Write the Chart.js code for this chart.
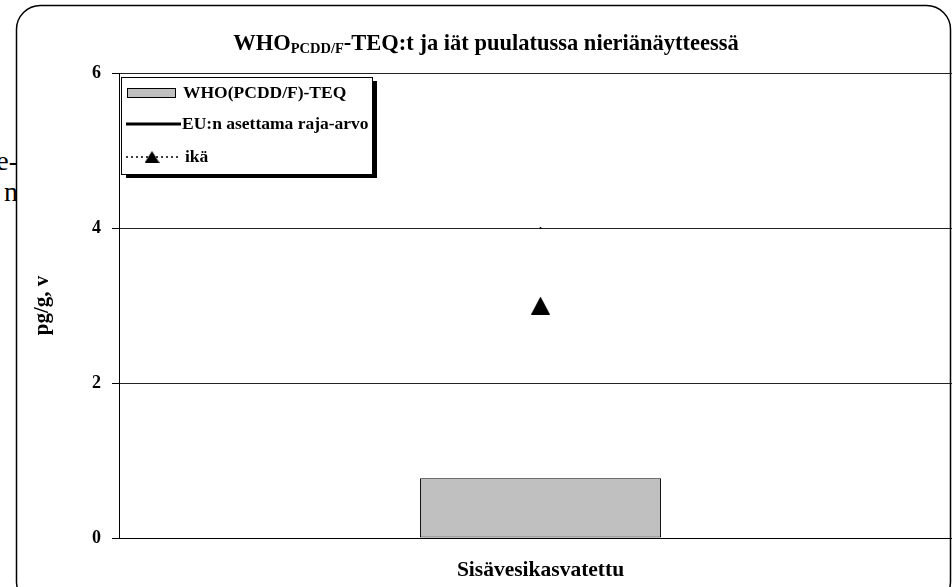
<!DOCTYPE html>
<html>
<head>
<meta charset="utf-8">
<script src="https://cdn.jsdelivr.net/npm/chart.js@4/dist/chart.umd.min.js"></script>
<style>
  html, body { margin: 0; padding: 0; background: #fff; overflow: hidden; width: 952px; height: 587px; }
  #wrap { position: relative; width: 962px; height: 587px; overflow: hidden; }
  .side { position: absolute; left: -182px; width: 200px; text-align: right; white-space: nowrap;
          font-family: "Liberation Serif", "Times New Roman", serif; font-size: 28px; color: #000; line-height: 1; }
  #c { position: absolute; left: 0; top: 0; width: 962px; height: 587px; }
</style>
</head>
<body>
<div id="wrap">
  <div class="side" style="top:147px">e-</div>
  <div class="side" style="top:178px">n</div>
  <canvas id="c" width="962" height="587"></canvas>
</div>
<script>
// Data
const categories = ['Sisävesikasvatettu'];
const teqValues = [0.77];      // WHO(PCDD/F)-TEQ, pg/g
const euLimitValues = [4];     // EU limit value, pg/g
const ageValues = [3];         // age, years
const yTickValues = [0, 2, 4, 6];

const seriesLabels = ['WHO(PCDD/F)-TEQ', 'EU:n asettama raja-arvo', 'ikä'];
const titleMain = 'WHO';
const titleSub = 'PCDD/F';
const titleRest = '-TEQ:t ja iät puulatussa nieriänäytteessä';
const yAxisTitle = 'pg/g, v';

const SERIF = '"Liberation Serif", "Times New Roman", serif';

// Filled triangle marker, centred in its own little canvas
function makeTriangle(w, h) {
  const c = document.createElement('canvas');
  c.width = w; c.height = h;
  const g = c.getContext('2d');
  g.fillStyle = '#000';
  g.beginPath();
  g.moveTo(w / 2, 0);
  g.lineTo(w, h);
  g.lineTo(0, h);
  g.closePath();
  g.fill();
  return c;
}
const triangleMarker = makeTriangle(19, 18);
const triangleLegend = makeTriangle(15, 12);

// Rounded white frame behind everything
const framePlugin = {
  id: 'frame',
  beforeDraw(chart) {
    const ctx = chart.ctx;
    ctx.save();
    ctx.beginPath();
    ctx.roundRect(16.5, 5.5, 934, 600, 24);
    ctx.fillStyle = '#fff';
    ctx.fill();
    ctx.lineWidth = 1.5;
    ctx.strokeStyle = '#000';
    ctx.stroke();
    ctx.restore();
  }
};

// Title with subscript
const titlePlugin = {
  id: 'subTitle',
  afterDraw(chart) {
    const ctx = chart.ctx;
    const parts = [
      { t: titleMain, f: 'bold 22.5px ' + SERIF, dy: 0 },
      { t: titleSub, f: 'bold 14.5px ' + SERIF, dy: 3 },
      { t: titleRest, f: 'bold 22.5px ' + SERIF, dy: 0 }
    ];
    ctx.save();
    let total = 0;
    parts.forEach(p => { ctx.font = p.f; p.w = ctx.measureText(p.t).width; total += p.w; });
    let x = 486 - total / 2;
    const base = 50;
    ctx.fillStyle = '#000';
    ctx.textBaseline = 'alphabetic';
    ctx.textAlign = 'left';
    parts.forEach(p => { ctx.font = p.f; ctx.fillText(p.t, x, base + p.dy); x += p.w; });
    ctx.restore();
  }
};

// Boxed legend with drop shadow
const legendPlugin = {
  id: 'boxLegend',
  afterDraw(chart) {
    const ctx = chart.ctx;
    const ds = chart.data.datasets;
    const bx = 121, by = 77, bw = 251, bh = 97;
    ctx.save();
    ctx.fillStyle = '#000';
    ctx.fillRect(bx + 5, by + 4, bw, bh);
    ctx.fillStyle = '#fff';
    ctx.fillRect(bx, by, bw, bh);
    ctx.lineWidth = 1;
    ctx.strokeStyle = '#000';
    ctx.strokeRect(bx + 0.5, by + 0.5, bw, bh);

    ctx.font = 'bold 17.5px ' + SERIF;
    ctx.textBaseline = 'middle';
    ctx.textAlign = 'left';

    // bar swatch
    ctx.fillStyle = ds[0].backgroundColor;
    ctx.fillRect(127.5, 88.5, 48, 9);
    ctx.strokeStyle = '#000';
    ctx.strokeRect(127.5, 88.5, 48, 9);
    ctx.fillStyle = '#000';
    ctx.fillText(ds[0].label, 183, 93);

    // solid line
    ctx.beginPath();
    ctx.lineWidth = 3;
    ctx.moveTo(126, 124);
    ctx.lineTo(181, 124);
    ctx.stroke();
    ctx.fillText(ds[1].label, 182, 124);

    // dotted line with triangle
    ctx.beginPath();
    ctx.lineWidth = 1.5;
    ctx.setLineDash([2, 3]);
    ctx.moveTo(126, 157);
    ctx.lineTo(181, 157);
    ctx.stroke();
    ctx.setLineDash([]);
    ctx.drawImage(triangleLegend, 152 - 7.5, 151);
    ctx.fillText(ds[2].label, 185, 157);
    ctx.restore();
  }
};

new Chart(document.getElementById('c'), {
  data: {
    labels: categories,
    datasets: [
      {
        type: 'bar',
        label: seriesLabels[0],
        data: teqValues,
        backgroundColor: '#c0c0c0',
        borderColor: '#000',
        borderWidth: 1,
        borderSkipped: false,
        barPercentage: 0.286,
        categoryPercentage: 1
      },
      {
        type: 'line',
        label: seriesLabels[1],
        data: euLimitValues,
        borderColor: '#000',
        backgroundColor: '#000',
        borderWidth: 3,
        pointStyle: 'circle',
        pointRadius: 1,
        pointBorderWidth: 0
      },
      {
        type: 'line',
        label: seriesLabels[2],
        data: ageValues,
        borderColor: '#000',
        backgroundColor: '#000',
        borderWidth: 1.5,
        borderDash: [2, 3],
        pointStyle: triangleMarker,
        pointRadius: 10
      }
    ]
  },
  options: {
    responsive: false,
    animation: false,
    devicePixelRatio: 1,
    layout: { autoPadding: false, padding: { top: 73, left: 0, right: 0, bottom: 0 } },
    plugins: {
      legend: { display: false },
      title: { display: false },
      tooltip: { enabled: false }
    },
    scales: {
      x: {
        type: 'category',
        grid: { display: false, drawTicks: false },
        border: { display: true, color: '#000', width: 1 },
        ticks: { color: '#000', font: { family: SERIF, weight: 'bold', size: 21.5 }, padding: 20 },
        afterFit(s) { s.height = 49; }
      },
      y: {
        min: 0,
        max: 6,
        afterBuildTicks(s) { s.ticks = yTickValues.map(v => ({ value: v })); },
        ticks: { color: '#000', font: { family: SERIF, weight: 'bold', size: 18 }, padding: 11 },
        grid: { color: '#222', lineWidth: 1, tickLength: 7, tickColor: '#000' },
        border: { display: true, color: '#000', width: 1 },
        title: {
          display: true,
          text: yAxisTitle,
          color: '#000',
          font: { family: SERIF, weight: 'bold', size: 21 },
          padding: { top: 30, bottom: 0 }
        },
        afterFit(s) { s.width = 119; }
      }
    }
  },
  plugins: [framePlugin, titlePlugin, legendPlugin]
});
</script>
</body>
</html>
